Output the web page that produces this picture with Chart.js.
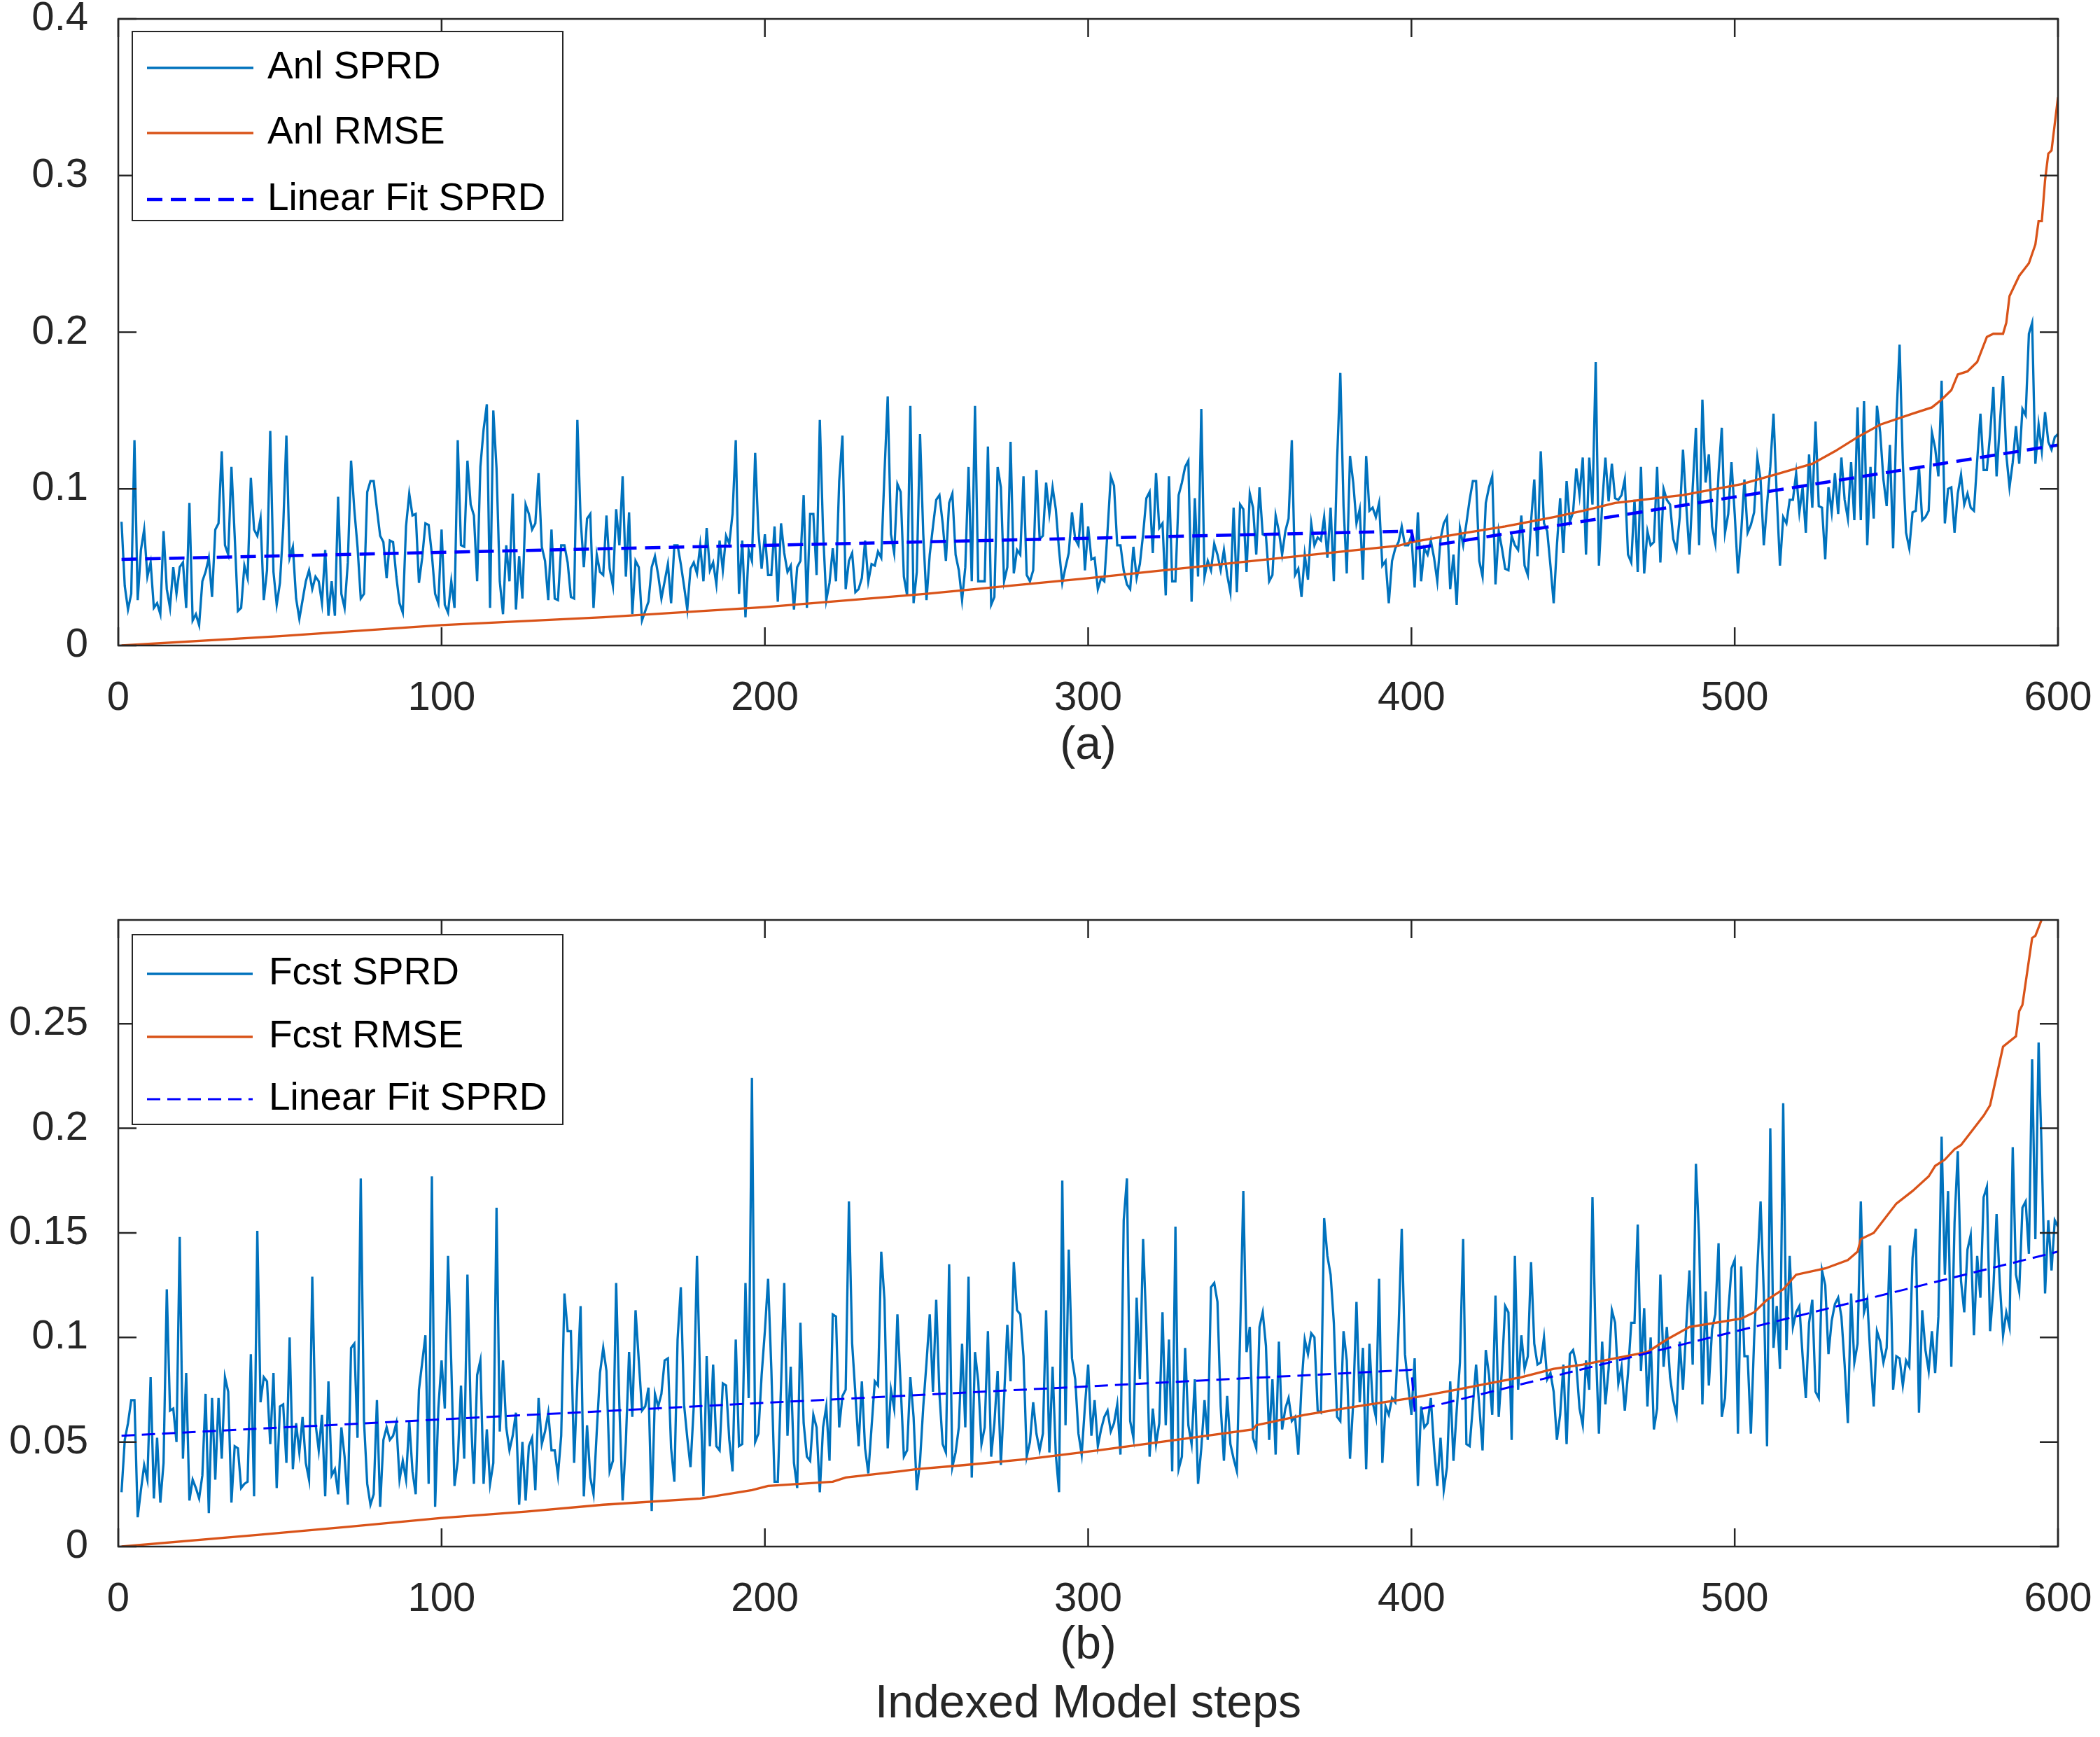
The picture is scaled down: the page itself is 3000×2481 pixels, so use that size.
<!DOCTYPE html>
<html>
<head>
<meta charset="utf-8">
<script src="https://cdn.jsdelivr.net/npm/chart.js@4.4.1/dist/chart.umd.min.js"></script>
<style>
  html, body { margin: 0; padding: 0; background: #fff; }
  body { width: 3000px; height: 2481px; position: relative; overflow: hidden; }
  canvas { position: absolute; left: 0; }
  #chartA { top: 0; }
  #chartB { top: 1290px; }
</style>
</head>
<body>
<canvas id="chartA" width="3000" height="1130"></canvas>
<canvas id="chartB" width="3000" height="1191"></canvas>
<script>
const xTicks = [0, 100, 200, 300, 400, 500, 600];
const yTicksA = [0, 0.1, 0.2, 0.3, 0.4];
const yTicksB = [0, 0.05, 0.1, 0.15, 0.2, 0.25];

// (a) analysis spread, one value per indexed step 1..600
const anlSprd = [
  0.079,0.038,0.023,0.033,0.131,0.029,0.061,0.074,0.044,0.053,
  0.024,0.027,0.020,0.073,0.036,0.024,0.050,0.033,0.050,0.053,
  0.024,0.091,0.016,0.020,0.013,0.041,0.047,0.056,0.031,0.074,
  0.078,0.124,0.064,0.058,0.114,0.070,0.022,0.024,0.051,0.043,
  0.107,0.074,0.070,0.081,0.029,0.048,0.137,0.047,0.026,0.040,
  0.075,0.134,0.056,0.063,0.030,0.017,0.029,0.041,0.048,0.036,
  0.044,0.041,0.027,0.061,0.019,0.041,0.019,0.095,0.033,0.024,
  0.053,0.118,0.087,0.063,0.030,0.033,0.098,0.105,0.105,0.087,
  0.070,0.066,0.043,0.067,0.066,0.044,0.027,0.021,0.076,0.097,
  0.083,0.084,0.040,0.056,0.078,0.077,0.058,0.033,0.027,0.074,
  0.026,0.021,0.041,0.024,0.131,0.064,0.063,0.118,0.090,0.083,
  0.041,0.114,0.138,0.154,0.024,0.150,0.113,0.041,0.020,0.064,
  0.041,0.097,0.023,0.057,0.030,0.090,0.084,0.074,0.078,0.110,
  0.063,0.054,0.029,0.074,0.030,0.029,0.064,0.064,0.053,0.031,
  0.030,0.144,0.081,0.050,0.081,0.084,0.024,0.058,0.047,0.045,
  0.083,0.049,0.038,0.087,0.064,0.108,0.044,0.085,0.020,0.054,
  0.050,0.016,0.022,0.028,0.050,0.057,0.045,0.030,0.041,0.052,
  0.027,0.064,0.064,0.052,0.038,0.023,0.049,0.053,0.046,0.064,
  0.041,0.075,0.048,0.053,0.039,0.067,0.048,0.070,0.065,0.084,
  0.131,0.033,0.067,0.018,0.061,0.054,0.123,0.073,0.049,0.071,
  0.045,0.045,0.076,0.028,0.078,0.059,0.047,0.051,0.023,0.050,
  0.054,0.096,0.024,0.084,0.084,0.045,0.144,0.073,0.029,0.040,
  0.062,0.041,0.105,0.134,0.036,0.054,0.059,0.034,0.036,0.043,
  0.067,0.041,0.052,0.051,0.060,0.056,0.110,0.159,0.071,0.059,
  0.103,0.098,0.044,0.032,0.153,0.027,0.047,0.135,0.071,0.029,
  0.058,0.076,0.093,0.096,0.078,0.054,0.091,0.097,0.058,0.048,
  0.029,0.050,0.114,0.041,0.153,0.041,0.041,0.041,0.127,0.026,
  0.031,0.114,0.101,0.041,0.050,0.130,0.046,0.061,0.058,0.108,
  0.045,0.041,0.048,0.112,0.068,0.070,0.104,0.084,0.101,0.087,
  0.061,0.040,0.050,0.059,0.085,0.068,0.064,0.091,0.048,0.076,
  0.055,0.056,0.036,0.043,0.041,0.073,0.108,0.102,0.064,0.064,
  0.048,0.039,0.036,0.063,0.043,0.052,0.071,0.094,0.098,0.059,
  0.110,0.075,0.078,0.032,0.108,0.041,0.041,0.096,0.104,0.114,
  0.118,0.028,0.094,0.044,0.151,0.044,0.054,0.048,0.065,0.058,
  0.048,0.061,0.045,0.034,0.088,0.034,0.090,0.087,0.047,0.097,
  0.088,0.058,0.101,0.071,0.070,0.041,0.045,0.083,0.073,0.058,
  0.073,0.081,0.131,0.045,0.049,0.031,0.058,0.042,0.078,0.064,
  0.069,0.067,0.082,0.056,0.088,0.041,0.118,0.174,0.089,0.046,
  0.121,0.104,0.078,0.087,0.042,0.121,0.086,0.088,0.082,0.091,
  0.051,0.054,0.027,0.054,0.062,0.066,0.076,0.064,0.064,0.070,
  0.037,0.085,0.041,0.062,0.058,0.067,0.056,0.041,0.068,0.078,
  0.082,0.036,0.058,0.026,0.075,0.064,0.078,0.093,0.105,0.105,
  0.054,0.044,0.091,0.101,0.108,0.039,0.073,0.062,0.049,0.048,
  0.070,0.064,0.061,0.083,0.051,0.045,0.079,0.106,0.057,0.124,
  0.078,0.073,0.051,0.027,0.064,0.094,0.059,0.105,0.079,0.085,
  0.113,0.096,0.120,0.058,0.120,0.090,0.181,0.051,0.090,0.120,
  0.092,0.116,0.094,0.093,0.096,0.106,0.058,0.053,0.093,0.047,
  0.114,0.046,0.073,0.064,0.066,0.114,0.053,0.100,0.093,0.090,
  0.068,0.061,0.082,0.125,0.090,0.058,0.101,0.139,0.064,0.157,
  0.104,0.122,0.076,0.065,0.110,0.139,0.072,0.084,0.117,0.084,
  0.046,0.072,0.106,0.072,0.077,0.085,0.120,0.106,0.064,0.090,
  0.114,0.148,0.096,0.051,0.082,0.078,0.093,0.093,0.110,0.085,
  0.101,0.072,0.122,0.088,0.143,0.089,0.088,0.055,0.101,0.085,
  0.110,0.084,0.120,0.093,0.081,0.117,0.080,0.152,0.080,0.156,
  0.064,0.114,0.081,0.153,0.136,0.106,0.089,0.128,0.062,0.144,
  0.192,0.117,0.072,0.062,0.085,0.086,0.114,0.080,0.082,0.086,
  0.136,0.126,0.108,0.169,0.078,0.100,0.101,0.072,0.097,0.109,
  0.090,0.097,0.088,0.086,0.118,0.148,0.112,0.112,0.135,0.165,
  0.108,0.141,0.172,0.122,0.101,0.117,0.140,0.116,0.151,0.147,
  0.199,0.206,0.116,0.141,0.124,0.149,0.130,0.125,0.133,0.135
];
const anlRmseSteps = [1,50,100,150,200,250,300,351,367,396,400,414,429,444,453,463,484,502,514,524,531,538,545,555,561,564,567,569,572,575,578,580,583,584,585,588,591,593,594,595,596,597,598,599,600];
const anlRmse = [0,0.006,0.013,0.018,0.0245,0.033,0.043,0.054,0.0575,0.0637,0.066,0.071,0.076,0.082,0.086,0.091,0.096,0.103,0.110,0.116,0.124,0.133,0.141,0.148,0.152,0.157,0.163,0.173,0.175,0.181,0.197,0.199,0.199,0.206,0.223,0.236,0.244,0.256,0.271,0.271,0.297,0.314,0.316,0.333,0.350];
const anlFitSteps = [1, 400, 401, 600];
const anlFit = [0.055, 0.073, 0.062, 0.128];

// (b) forecast spread
const fcstSprd = [
  0.026,0.051,0.059,0.070,0.070,0.014,0.027,0.039,0.032,0.081,
  0.023,0.052,0.021,0.040,0.123,0.065,0.066,0.050,0.148,0.042,
  0.083,0.022,0.032,0.028,0.023,0.034,0.073,0.016,0.071,0.032,
  0.071,0.042,0.081,0.074,0.021,0.048,0.047,0.028,0.030,0.031,
  0.092,0.024,0.151,0.069,0.081,0.079,0.049,0.083,0.028,0.067,
  0.068,0.040,0.100,0.037,0.059,0.045,0.062,0.040,0.032,0.129,
  0.059,0.046,0.063,0.024,0.079,0.034,0.037,0.025,0.057,0.043,
  0.020,0.095,0.097,0.052,0.176,0.060,0.030,0.020,0.025,0.070,
  0.019,0.051,0.057,0.051,0.053,0.059,0.032,0.041,0.032,0.060,
  0.036,0.025,0.075,0.088,0.101,0.030,0.177,0.019,0.066,0.089,
  0.066,0.139,0.087,0.029,0.041,0.077,0.042,0.130,0.065,0.030,
  0.082,0.089,0.030,0.056,0.030,0.040,0.162,0.055,0.089,0.057,
  0.046,0.053,0.064,0.020,0.050,0.022,0.048,0.052,0.027,0.071,
  0.049,0.055,0.064,0.046,0.046,0.034,0.053,0.121,0.103,0.103,
  0.040,0.079,0.115,0.024,0.058,0.033,0.025,0.055,0.083,0.095,
  0.084,0.036,0.041,0.126,0.067,0.022,0.050,0.093,0.062,0.113,
  0.089,0.065,0.067,0.076,0.017,0.073,0.067,0.073,0.089,0.090,
  0.047,0.031,0.099,0.124,0.068,0.052,0.038,0.067,0.139,0.077,
  0.024,0.091,0.048,0.087,0.048,0.046,0.078,0.077,0.051,0.036,
  0.099,0.048,0.049,0.126,0.071,0.224,0.050,0.054,0.082,0.103,
  0.128,0.085,0.031,0.031,0.077,0.126,0.053,0.086,0.040,0.028,
  0.107,0.059,0.043,0.041,0.063,0.057,0.026,0.057,0.067,0.041,
  0.111,0.110,0.057,0.072,0.075,0.165,0.097,0.073,0.048,0.079,
  0.047,0.035,0.057,0.079,0.077,0.141,0.118,0.047,0.075,0.066,
  0.111,0.077,0.043,0.046,0.081,0.062,0.027,0.041,0.067,0.088,
  0.111,0.074,0.118,0.073,0.049,0.045,0.135,0.038,0.045,0.057,
  0.097,0.057,0.129,0.033,0.093,0.079,0.049,0.057,0.103,0.043,
  0.059,0.084,0.039,0.071,0.106,0.079,0.136,0.113,0.111,0.091,
  0.043,0.050,0.069,0.054,0.046,0.054,0.113,0.045,0.086,0.044,
  0.026,0.175,0.058,0.142,0.090,0.080,0.054,0.044,0.067,0.087,
  0.053,0.070,0.048,0.056,0.062,0.065,0.055,0.059,0.068,0.044,
  0.156,0.176,0.060,0.052,0.119,0.080,0.147,0.105,0.043,0.066,
  0.049,0.059,0.112,0.058,0.099,0.036,0.153,0.037,0.043,0.095,
  0.058,0.049,0.080,0.030,0.047,0.070,0.051,0.124,0.126,0.117,
  0.067,0.041,0.072,0.049,0.042,0.036,0.101,0.170,0.093,0.105,
  0.052,0.047,0.105,0.112,0.096,0.051,0.080,0.044,0.098,0.056,
  0.066,0.071,0.060,0.062,0.044,0.077,0.099,0.092,0.102,0.100,
  0.065,0.064,0.157,0.139,0.130,0.107,0.062,0.060,0.103,0.089,
  0.042,0.069,0.117,0.069,0.095,0.037,0.097,0.069,0.062,0.128,
  0.040,0.067,0.063,0.071,0.069,0.103,0.152,0.092,0.077,0.063,
  0.090,0.029,0.067,0.057,0.059,0.071,0.047,0.029,0.052,0.027,
  0.038,0.079,0.041,0.065,0.088,0.147,0.049,0.048,0.067,0.087,
  0.067,0.046,0.094,0.082,0.063,0.120,0.062,0.085,0.115,0.112,
  0.051,0.139,0.075,0.101,0.085,0.091,0.136,0.097,0.087,0.088,
  0.100,0.080,0.083,0.074,0.051,0.063,0.087,0.049,0.092,0.094,
  0.087,0.066,0.058,0.089,0.075,0.167,0.097,0.054,0.098,0.068,
  0.085,0.113,0.107,0.078,0.086,0.065,0.083,0.107,0.107,0.154,
  0.084,0.114,0.067,0.100,0.056,0.066,0.130,0.086,0.105,0.081,
  0.070,0.063,0.098,0.075,0.105,0.132,0.087,0.183,0.147,0.068,
  0.122,0.077,0.104,0.111,0.145,0.062,0.071,0.112,0.133,0.137,
  0.054,0.134,0.091,0.091,0.054,0.099,0.133,0.165,0.121,0.048,
  0.200,0.095,0.115,0.085,0.212,0.094,0.139,0.105,0.112,0.115,
  0.091,0.071,0.107,0.118,0.074,0.071,0.132,0.125,0.092,0.108,
  0.116,0.119,0.110,0.087,0.059,0.121,0.088,0.097,0.165,0.112,
  0.118,0.090,0.067,0.103,0.098,0.088,0.095,0.144,0.075,0.091,
  0.090,0.077,0.089,0.086,0.138,0.152,0.064,0.113,0.094,0.084,
  0.103,0.083,0.110,0.196,0.130,0.170,0.086,0.155,0.189,0.127,
  0.112,0.142,0.149,0.101,0.139,0.119,0.167,0.172,0.103,0.123,
  0.159,0.126,0.101,0.112,0.105,0.191,0.130,0.122,0.162,0.165,
  0.140,0.233,0.147,0.241,0.186,0.121,0.156,0.132,0.156,0.153
];
const fcstRmseSteps = [1,43,72,100,126,150,180,196,201,221,225,242,247,262,282,303,332,351,352,367,383,400,414,424,434,444,453,473,479,486,502,506,510,515,519,528,535,538,539,543,545,550,555,560,562,565,568,570,574,577,579,581,583,587,588,589,592,593,595,597,600];
const fcstRmse = [0,0.0056,0.0096,0.0137,0.0167,0.020,0.023,0.027,0.029,0.031,0.033,0.036,0.037,0.039,0.042,0.046,0.052,0.056,0.058,0.063,0.067,0.071,0.075,0.078,0.081,0.085,0.087,0.093,0.099,0.105,0.109,0.112,0.118,0.123,0.130,0.133,0.137,0.141,0.147,0.150,0.154,0.164,0.170,0.177,0.182,0.185,0.190,0.192,0.200,0.206,0.211,0.225,0.239,0.244,0.256,0.259,0.291,0.292,0.300,0.315,0.335];
const fcstFitSteps = [1, 400, 401, 600];
const fcstFit = [0.053, 0.0845, 0.065, 0.141];

const BLUE = '#0072BD';
const ORANGE = '#D95319';
const FIT = '#0000FF';
const AXIS = '#262626';
const FONT = '"Liberation Sans", Arial, Helvetica, sans-serif';

function pts(xs, ys) {
  return ys.map((v, i) => ({ x: xs ? xs[i] : i + 1, y: v }));
}

// MATLAB-style box: inward ticks on all four sides, plus boxed legend
const matlabAxes = {
  id: 'matlabAxes',
  afterDatasetsDraw(chart, args, opts) {
    const { ctx, chartArea: a } = chart;
    const xs = chart.scales.x, ys = chart.scales.y;
    const tl = 26;
    ctx.save();
    ctx.strokeStyle = AXIS;
    ctx.lineWidth = 2.5;
    ctx.beginPath();
    xs.ticks.forEach((t) => {
      const px = xs.getPixelForValue(t.value);
      ctx.moveTo(px, a.bottom); ctx.lineTo(px, a.bottom - tl);
      ctx.moveTo(px, a.top); ctx.lineTo(px, a.top + tl);
    });
    ys.ticks.forEach((t) => {
      const py = ys.getPixelForValue(t.value);
      ctx.moveTo(a.left, py); ctx.lineTo(a.left + tl, py);
      ctx.moveTo(a.right, py); ctx.lineTo(a.right - tl, py);
    });
    ctx.stroke();
    ctx.strokeRect(a.left, a.top, a.right - a.left, a.bottom - a.top);

    const lg = opts.legend;
    ctx.fillStyle = '#fff';
    ctx.fillRect(lg.left, lg.top, lg.right - lg.left, lg.bottom - lg.top);
    ctx.lineWidth = 2;
    ctx.strokeStyle = AXIS;
    ctx.strokeRect(lg.left, lg.top, lg.right - lg.left, lg.bottom - lg.top);
    ctx.font = '55px ' + FONT;
    ctx.textBaseline = 'middle';
    ctx.textAlign = 'left';
    chart.data.datasets.forEach((ds, i) => {
      const yy = lg.rows[i];
      ctx.beginPath();
      ctx.strokeStyle = ds.borderColor;
      ctx.lineWidth = ds.borderWidth;
      ctx.setLineDash(ds.borderDash || []);
      ctx.moveTo(lg.lineFrom, yy);
      ctx.lineTo(lg.lineTo, yy);
      ctx.stroke();
      ctx.setLineDash([]);
      ctx.fillStyle = '#000';
      ctx.fillText(ds.label, lg.textX, yy);
    });
    ctx.restore();
  }
};

function makeChart(id, cfg) {
  return new Chart(document.getElementById(id), {
    type: 'line',
    data: {
      datasets: [
        { label: cfg.labels[0], data: pts(null, cfg.sprd), borderColor: BLUE, borderWidth: 3.3, order: 3 },
        { label: cfg.labels[1], data: pts(cfg.rmseSteps, cfg.rmse), borderColor: ORANGE, borderWidth: 3.3, order: 2 },
        { label: cfg.labels[2], data: pts(cfg.fitSteps, cfg.fit), borderColor: FIT, borderWidth: cfg.fitWidth, borderDash: cfg.fitDash, order: 1 },
      ],
    },
    options: {
      responsive: false,
      animation: false,
      devicePixelRatio: 1,
      elements: { point: { radius: 0 }, line: { tension: 0, fill: false } },
      layout: { padding: { top: cfg.padTop, right: 60, left: 0, bottom: 0 } },
      plugins: {
        legend: { display: false },
        tooltip: { enabled: false },
        matlabAxes: { legend: cfg.legend },
      },
      scales: {
        x: {
          type: 'linear', min: 0, max: 600,
          grid: { display: false }, border: { display: false },
          afterBuildTicks: (s) => { s.ticks = xTicks.map((v) => ({ value: v })); },
          afterFit: (s) => { s.height = cfg.xAxisHeight; s.paddingLeft = 0; s.paddingRight = 0; },
          ticks: { font: { family: FONT, size: 58 }, color: AXIS, padding: 33, maxRotation: 0, autoSkip: false, callback: (v) => String(v) },
          title: { display: true, text: cfg.xTitle, color: AXIS, font: { family: FONT, size: 66, lineHeight: 1.27 }, padding: { top: 0, bottom: cfg.titlePad } },
        },
        y: {
          type: 'linear', min: 0, max: cfg.yMax,
          grid: { display: false }, border: { display: false },
          afterBuildTicks: (s) => { s.ticks = cfg.yTicks.map((v) => ({ value: v })); },
          afterFit: (s) => { s.width = 169; s.paddingTop = 0; s.paddingBottom = 0; },
          ticks: { font: { family: FONT, size: 58 }, color: AXIS, padding: 35, autoSkip: false, callback: (v) => String(+v.toFixed(2)) },
        },
      },
    },
    plugins: [matlabAxes],
  });
}

makeChart('chartA', {
  labels: ['Anl SPRD', 'Anl RMSE', 'Linear Fit SPRD'],
  sprd: anlSprd, rmseSteps: anlRmseSteps, rmse: anlRmse, fitSteps: anlFitSteps, fit: anlFit,
  fitWidth: 4.5, fitDash: [22, 12],
  yMax: 0.4, yTicks: yTicksA,
  padTop: 27, xAxisHeight: 208, titlePad: 22, xTitle: '(a)',
  legend: { left: 189, right: 804, top: 45, bottom: 315, rows: [97, 190, 285], lineFrom: 210, lineTo: 362, textX: 382 },
});

makeChart('chartB', {
  labels: ['Fcst SPRD', 'Fcst RMSE', 'Linear Fit SPRD'],
  sprd: fcstSprd, rmseSteps: fcstRmseSteps, rmse: fcstRmse, fitSteps: fcstFitSteps, fit: fcstFit,
  fitWidth: 3, fitDash: [19, 10],
  yMax: 0.2996, yTicks: yTicksB,
  padTop: 24, xAxisHeight: 272, titlePad: 4, xTitle: ['(b)', 'Indexed Model steps'],
  legend: { left: 189, right: 804, top: 45, bottom: 316, rows: [101, 191, 280], lineFrom: 210, lineTo: 361, textX: 384 },
});
</script>
</body>
</html>
